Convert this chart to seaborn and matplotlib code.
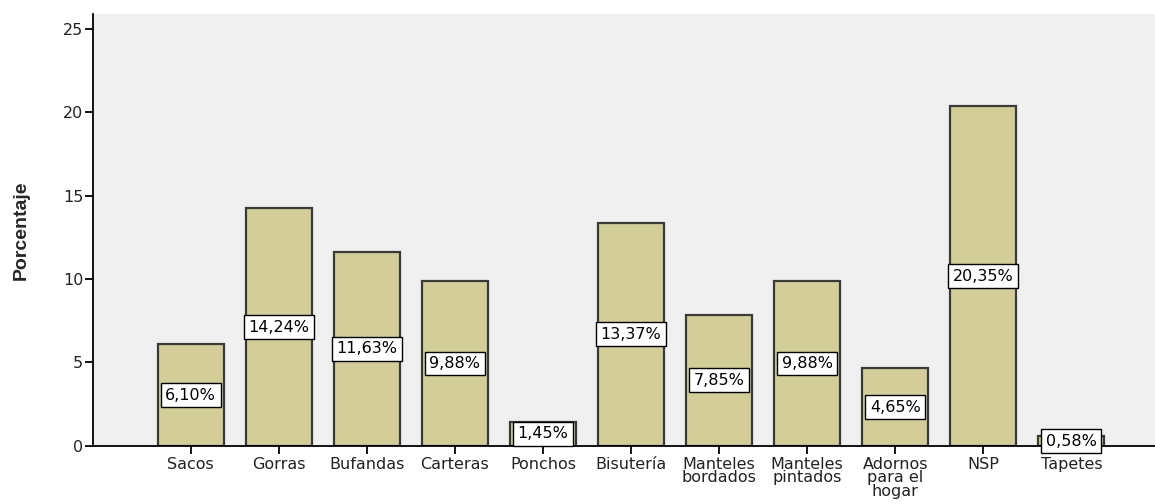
import pandas as pd
import matplotlib.pyplot as plt
import seaborn as sns

# Datos del gráfico
categorias = ["Sacos", "Gorras", "Bufandas", "Carteras", "Ponchos", "Bisutería",
              "Manteles\nbordados", "Manteles\npintados", "Adornos\npara el\nhogar",
              "NSP", "Tapetes"]
porcentajes = [6.10, 14.24, 11.63, 9.88, 1.45, 13.37, 7.85, 9.88, 4.65, 20.35, 0.58]

df = pd.DataFrame({"categoria": categorias, "porcentaje": porcentajes})

sns.set_style("white")
plt.rcParams['font.family'] = ['DejaVu Sans']

fig = plt.figure(figsize=(11.55, 5.04), dpi=100)
ax = fig.add_axes([0.0805, 0.1151, 0.9195, 0.8571])
ax.set_facecolor("#F0F0F0")

sns.barplot(data=df, x="categoria", y="porcentaje", color="#D3CE97",
            saturation=1, width=0.75, edgecolor="#3A3A3A", linewidth=1.6, ax=ax)

# Etiquetas con caja blanca en el centro de cada barra
for i, v in enumerate(porcentajes):
    ax.text(i, v / 2, f"{v:.2f}".replace(".", ",") + "%", ha="center", va="center",
            fontsize=11.5, color="black",
            bbox=dict(boxstyle="square,pad=0.28", facecolor="white", edgecolor="black", linewidth=1))

ax.set_ylim(0, 25.87)
ax.set_xlim(-1.11, 10.95)
ax.set_yticks([0, 5, 10, 15, 20, 25])
ax.set_xlabel("")
ax.set_ylabel("Porcentaje", fontsize=14, fontweight="bold",
              family=['Liberation Sans Narrow', 'Liberation Sans', 'DejaVu Sans'], labelpad=24)

for s in ["top", "right"]:
    ax.spines[s].set_visible(False)
ax.spines["left"].set_color("black")
ax.spines["bottom"].set_color("black")
ax.spines["left"].set_linewidth(1.3)
ax.spines["bottom"].set_linewidth(1.3)
ax.tick_params(axis="both", direction="out", length=6, width=1.3, color="black",
               labelsize=11.5, labelcolor="#222222", left=True, bottom=True)
ax.tick_params(axis="x", pad=2)
ax.tick_params(axis="y", pad=1)
for lab in ax.get_xticklabels():
    lab.set_linespacing(0.85)

plt.savefig("out.png", dpi=100)
